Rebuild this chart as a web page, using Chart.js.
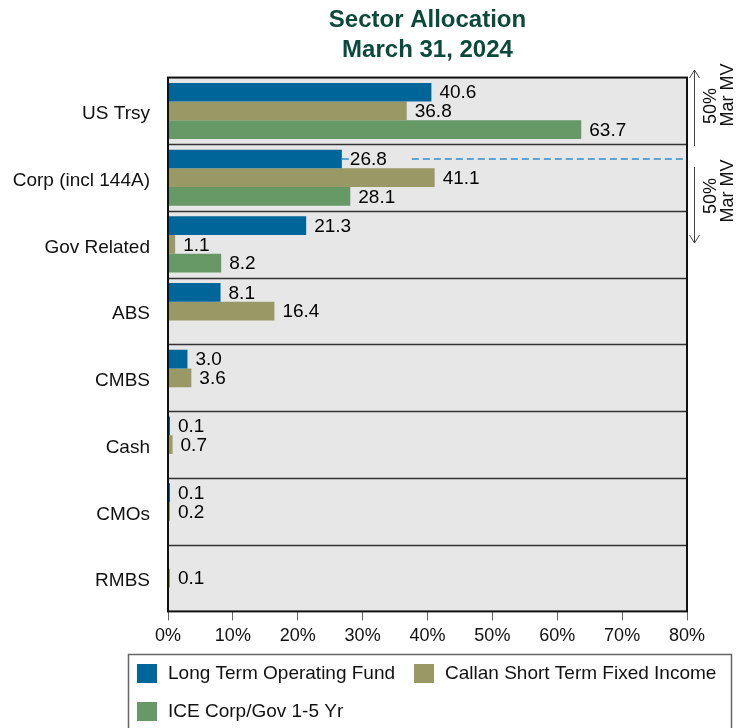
<!DOCTYPE html>
<html>
<head>
<meta charset="utf-8">
<script src="https://cdn.jsdelivr.net/npm/chart.js@4/dist/chart.umd.min.js"></script>
<style>
  html, body { margin: 0; padding: 0; background: #fff; }
  canvas { display: block; }
</style>
</head>
<body>
<canvas id="sectors" width="736" height="728"></canvas>
<script>
// data
const sectors = ['US Trsy', 'Corp (incl 144A)', 'Gov Related', 'ABS', 'CMBS', 'Cash', 'CMOs', 'RMBS'];
const longTermFund = [40.6, 26.8, 21.3, 8.1, 3.0, 0.1, 0.1, null];
const callanShortTerm = [36.8, 41.1, 1.1, 16.4, 3.6, 0.7, 0.2, 0.1];
const iceCorpGov = [63.7, 28.1, 8.2, null, null, null, null, null];
const seriesNames = ['Long Term Operating Fund', 'Callan Short Term Fixed Income', 'ICE Corp/Gov 1-5 Yr'];
const xTicks = [0, 10, 20, 30, 40, 50, 60, 70, 80];

const colors = ['#006699', '#999966', '#669966'];
const FONT = '"Liberation Sans", Arial, sans-serif';

// plot background + frame
const plotFrame = {
  id: 'plotFrame',
  beforeDatasetsDraw(chart) {
    const { ctx, chartArea: a } = chart;
    ctx.save();
    ctx.fillStyle = '#e7e7e7';
    ctx.fillRect(a.left, a.top, a.right - a.left, a.bottom - a.top);
    // category separators
    const y = chart.scales.y;
    ctx.strokeStyle = '#333';
    ctx.lineWidth = 1.5;
    for (let i = 1; i < sectors.length; i++) {
      const py = Math.round((y.getPixelForValue(i - 1) + y.getPixelForValue(i)) / 2) + 0.5;
      ctx.beginPath();
      ctx.moveTo(a.left, py);
      ctx.lineTo(a.right, py);
      ctx.stroke();
    }
    ctx.restore();
  },
  afterDatasetsDraw(chart) {
    const { ctx, chartArea: a } = chart;
    ctx.save();
    ctx.strokeStyle = '#111';
    ctx.lineWidth = 2;
    ctx.strokeRect(a.left, a.top, a.right - a.left, a.bottom - a.top);
    ctx.restore();
  }
};

// value labels + dashed marker on Corp fund bar
const barLabels = {
  id: 'barLabels',
  afterDatasetsDraw(chart) {
    const { ctx, chartArea: a } = chart;
    ctx.save();
    ctx.font = '19px ' + FONT;
    ctx.textBaseline = 'middle';
    ctx.textAlign = 'left';

    // dashed line from corp bar
    const corp = chart.getDatasetMeta(0).data[1];
    const txt = longTermFund[1].toFixed(1);
    const lx = corp.x + 9;
    const tw = ctx.measureText(txt).width;
    ctx.strokeStyle = '#2f8fcf';
    ctx.lineWidth = 1.4;
    ctx.setLineDash([7, 4]);
    ctx.beginPath();
    ctx.moveTo(corp.x, corp.y);
    ctx.lineTo(lx - 1, corp.y);
    ctx.moveTo(lx + tw + 24, corp.y);
    ctx.lineTo(a.right, corp.y);
    ctx.stroke();
    ctx.setLineDash([]);

    ctx.fillStyle = '#000';
    chart.data.datasets.forEach((ds, i) => {
      chart.getDatasetMeta(i).data.forEach((bar, j) => {
        const v = ds.data[j];
        if (v == null) return;
        ctx.fillText(v.toFixed(1), bar.x + 8, bar.y + 1);
      });
    });
    ctx.restore();
  }
};

// side arrows + legend box
const extras = {
  id: 'extras',
  afterDraw(chart) {
    const { ctx } = chart;
    ctx.save();
    // arrows
    ctx.strokeStyle = '#444';
    ctx.lineWidth = 1;
    const ax = 694.5;
    ctx.beginPath();
    ctx.moveTo(ax, 70); ctx.lineTo(ax, 146);
    ctx.moveTo(ax - 5, 78); ctx.lineTo(ax, 70); ctx.lineTo(ax + 5, 78);
    ctx.moveTo(ax, 167); ctx.lineTo(ax, 243);
    ctx.moveTo(ax - 5, 235); ctx.lineTo(ax, 243); ctx.lineTo(ax + 5, 235);
    ctx.stroke();

    ctx.fillStyle = '#111';
    ctx.font = '18px ' + FONT;
    ctx.textAlign = 'center';
    ctx.textBaseline = 'alphabetic';
    const vtext = (t, x, y) => {
      ctx.save();
      ctx.translate(x, y);
      ctx.rotate(-Math.PI / 2);
      ctx.fillText(t, 0, 0);
      ctx.restore();
    };
    vtext('50%', 716, 106);
    vtext('Mar MV', 733, 95);
    vtext('50%', 716, 196);
    vtext('Mar MV', 733, 191);

    // legend
    ctx.strokeStyle = '#666';
    ctx.lineWidth = 1.5;
    ctx.strokeRect(128.5, 654.5, 603, 90);
    const items = [
      { x: 137, y: 673 },
      { x: 414, y: 673 },
      { x: 137, y: 711 }
    ];
    ctx.font = '19px ' + FONT;
    ctx.textAlign = 'left';
    ctx.textBaseline = 'middle';
    items.forEach((it, i) => {
      ctx.fillStyle = colors[i];
      ctx.fillRect(it.x, it.y - 9, 20, 19);
      ctx.fillStyle = '#111';
      ctx.fillText(seriesNames[i], it.x + 31, it.y + 1);
    });
    ctx.restore();
  }
};

new Chart(document.getElementById('sectors'), {
  type: 'bar',
  data: {
    labels: sectors,
    datasets: [
      { label: seriesNames[0], data: longTermFund, backgroundColor: colors[0] },
      { label: seriesNames[1], data: callanShortTerm, backgroundColor: colors[1] },
      { label: seriesNames[2], data: iceCorpGov, backgroundColor: colors[2] }
    ]
  },
  options: {
    indexAxis: 'y',
    responsive: false,
    animation: false,
    categoryPercentage: 0.84,
    barPercentage: 1.0,
    minBarLength: 2,
    layout: { padding: { left: 0, right: 49, top: 0, bottom: 76 } },
    scales: {
      y: {
        ticks: { font: { size: 19, family: FONT }, color: '#111', padding: 18, labelOffset: 3 },
        grid: { display: false, drawTicks: false },
        border: { display: false },
        afterFit: (axis) => { axis.width = 168; }
      },
      x: {
        min: 0,
        max: 80,
        afterBuildTicks: (axis) => { axis.ticks = xTicks.map(v => ({ value: v })); },
        ticks: {
          font: { size: 18, family: FONT },
          color: '#111',
          padding: 5,
          callback: (v) => v + '%'
        },
        grid: { drawOnChartArea: false, drawTicks: true, tickLength: 9, color: '#666' },
        border: { display: false }
      }
    },
    plugins: {
      legend: { display: false },
      tooltip: { enabled: false },
      title: {
        display: true,
        fullSize: false,
        text: ['Sector Allocation', 'March 31, 2024'],
        color: '#0b4a3b',
        font: { size: 24, weight: 'bold', family: FONT, lineHeight: 1.22 },
        padding: { top: 6, bottom: 13 }
      }
    }
  },
  plugins: [plotFrame, barLabels, extras]
});
</script>
</body>
</html>
